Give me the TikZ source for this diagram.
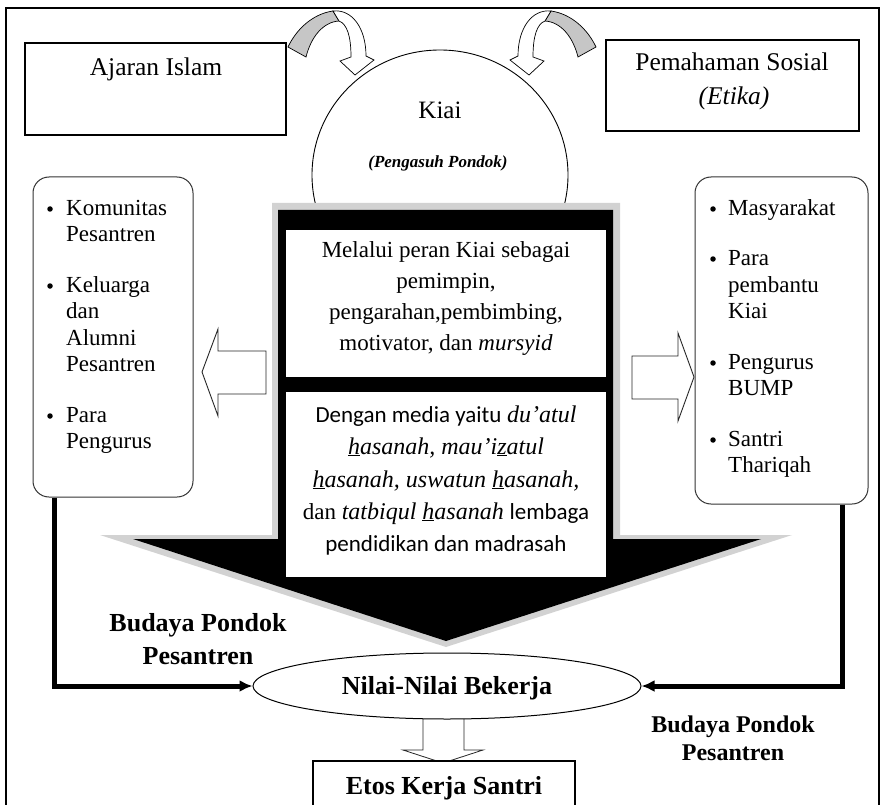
\documentclass[tikz,border=0pt]{standalone}
\usepackage{fontspec}
\setmainfont{Liberation Serif}
\newfontfamily\calfont{Carlito}
\usetikzlibrary{shapes.geometric,arrows.meta,calc}
\begin{document}
\begin{tikzpicture}[x=1pt,y=-1pt,
  fs/.style={font=\fontsize{#1}{#1}\selectfont},
  fsb/.style={font=\fontsize{#1}{#1}\selectfont\bfseries},
  txt/.style={inner sep=0pt, anchor=base},
  txtl/.style={inner sep=0pt, anchor=base west},
  sqbox/.style={draw, inner sep=0pt, fill=white},
  rbox/.style={draw=black!80, line width=1pt, rounded corners=16pt, inner sep=0pt, fill=white},
  bul/.style={circle, fill=black, inner sep=0pt, minimum size=5.5pt},
  whitearrow/.style={draw=black!85, fill=white, line width=0.9pt, line join=miter},
  conn/.style={line width=5pt, -{Latex[length=13pt,width=12pt]}},
  curvarr/.pic={
    \filldraw[fill=gray!45, draw=black, line width=0.7pt]
      (288,47) .. controls (296,30) and (312,14) .. (333,11) -- (339,21)
      .. controls (323,22) and (311,37) .. (306,57) -- cycle;
    \filldraw[fill=white, draw=black, line width=0.7pt]
      (333,11) .. controls (352,9) and (366,28) .. (366,56) -- (374,60) -- (355,75)
      -- (340,61) -- (351,57) .. controls (351,36) and (347,24) .. (339,21) -- cycle;
  }]
\useasboundingbox (0,0) rectangle (883,805);
\clip (0,0) rectangle (883,805);
\fill[white] (0,0) rectangle (883,805);
% outer frame
\draw[line width=2pt] (6,8) rectangle (879,840);

% top boxes
\node[sqbox, line width=1.3pt, minimum width=261pt, minimum height=92pt] (ajaranbox) at (155.5,89) {};
\node[txt, fs=25.5] (ajaran) at (156,76) {Ajaran Islam};
\node[sqbox, line width=2pt, minimum width=253pt, minimum height=91pt] (pembox) at (732.5,85.5) {};
\node[txt, fs=25.5] (pem1) at (732,71) {Pemahaman Sosial};
\node[txt, fs=25.5] (pem2) at (734,105) {\itshape (Etika)};

% Kiai circle
\node[ellipse, draw, line width=0.9pt, fill=white, minimum width=256pt, minimum height=250pt, inner sep=0pt] (kiai) at (440,175) {};
\node[txt, fs=25] (kiait) at (440,119) {Kiai};
\node[txt, fs=17] (peng) at (438,168) {\bfseries\itshape (Pengasuh Pondok)};

% curved arrows
\pic (carrL) at (0,0) {curvarr};
\pic[xscale=-1] (carrR) at (884,0) {curvarr};

% big black down arrow
\fill[gray!35] (272,203) -- (620,203) -- (620,535) -- (792,535) -- (446,647) -- (100,535) -- (272,535) -- cycle;
\fill[black] (278,210) -- (613,210) -- (613,539) -- (761,539) -- (446,641) -- (133,539) -- (278,539) -- cycle;

% white text boxes
\node[fill=white, inner sep=0pt, minimum width=320pt, minimum height=147pt] (box1) at (446,303.5) {};
\node[fill=white, inner sep=0pt, minimum width=320pt, minimum height=185pt] (box2) at (446,484.5) {};
\node[txt, fs=23] (b1a) at (446,257) {Melalui peran Kiai sebagai};
\node[txt, fs=23] (b1b) at (446,288) {pemimpin,};
\node[txt, fs=23] (b1c) at (446,319) {pengarahan,pembimbing,};
\node[txt, fs=23] (b1d) at (446,350) {motivator, dan \textit{mursyid}};
\node[txt, fs=23] (b2a) at (446,422) {{\calfont Dengan media yaitu} {\fontsize{24}{24}\selectfont\itshape du’atul}};
\node[txt, fs=24] (b2b) at (446,454) {\itshape \underline{h}asanah, mau’i\underline{z}atul};
\node[txt, fs=24] (b2c) at (446,487) {\itshape \underline{h}asanah, uswatun \underline{h}asanah,};
\node[txt, fs=23] (b2d) at (446,519) {dan {\fontsize{24}{24}\selectfont\itshape tatbiqul \underline{h}asanah} {\calfont lembaga}};
\node[txt, fs=23] (b2e) at (446,551) {\calfont pendidikan dan madrasah};

% side rounded boxes
\node[rbox, minimum width=160pt, minimum height=320pt] (lbox) at (113,337) {};
\node[rbox, minimum width=173pt, minimum height=327pt] (rbox) at (781.5,340.5) {};

\node[bul] (lb1) at (50,209) {};
\node[bul] (lb2) at (50,286) {};
\node[bul] (lb3) at (50,416) {};
\node[txtl, fs=23] (l1) at (66,215) {Komunitas};
\node[txtl, fs=23] (l2) at (66,241) {Pesantren};
\node[txtl, fs=23] (l3) at (66,292) {Keluarga};
\node[txtl, fs=23] (l4) at (66,318) {dan};
\node[txtl, fs=23] (l5) at (66,345) {Alumni};
\node[txtl, fs=23] (l6) at (66,371) {Pesantren};
\node[txtl, fs=23] (l7) at (66,422) {Para};
\node[txtl, fs=23] (l8) at (66,448) {Pengurus};

\node[bul] (rb1) at (713,209) {};
\node[bul] (rb2) at (713,259) {};
\node[bul] (rb3) at (713,363) {};
\node[bul] (rb4) at (713,440) {};
\node[txtl, fs=23] (r1) at (728,215) {Masyarakat};
\node[txtl, fs=23] (r2) at (728,265) {Para};
\node[txtl, fs=23] (r3) at (728,292) {pembantu};
\node[txtl, fs=23] (r4) at (728,318) {Kiai};
\node[txtl, fs=23] (r5) at (728,369) {Pengurus};
\node[txtl, fs=23] (r6) at (728,395) {BUMP};
\node[txtl, fs=23] (r7) at (728,446) {Santri};
\node[txtl, fs=23] (r8) at (728,472) {Thariqah};

% side white block arrows
\draw[whitearrow] (202,372) -- (218,329) -- (218,351) -- (266,351) -- (266,394) -- (218,394) -- (218,416) -- cycle;
\draw[whitearrow] (694,377) -- (678,333) -- (678,356) -- (632,356) -- (632,399) -- (678,399) -- (678,421) -- cycle;

% down arrow to Etos
\draw[whitearrow, line width=0.8pt] (423,712) -- (423,750) -- (403,750) -- (443,763) -- (483,750) -- (464,750) -- (464,712);

% Nilai ellipse
\node[ellipse, draw, line width=1pt, fill=white, minimum width=388pt, minimum height=66pt, inner sep=0pt] (nilai) at (447,686) {};
\node[txt, fsb=26] (nilait) at (447,694) {Nilai-Nilai Bekerja};

% Etos box
\node[sqbox, line width=2pt, minimum width=262pt, minimum height=69pt] (etos) at (444,795.5) {};
\node[txt, fsb=26] (etost) at (444,794) {Etos Kerja Santri};

% connectors
\coordinate (lstart) at ($(lbox.south west)+(22,0)$);
\coordinate (rstart) at ($(rbox.south east)+(-26,0)$);
\draw[conn] (lstart) |- (nilai.west);
\draw[conn] (rstart) |- (nilai.east);

% labels
\node[txt, fsb=26] (bl1) at (198,631) {Budaya Pondok};
\node[txt, fsb=26] (bl2) at (198,664) {Pesantren};
\node[txt, fsb=24] (br1) at (733,732) {Budaya Pondok};
\node[txt, fsb=24] (br2) at (733,760) {Pesantren};
\end{tikzpicture}
\end{document}
